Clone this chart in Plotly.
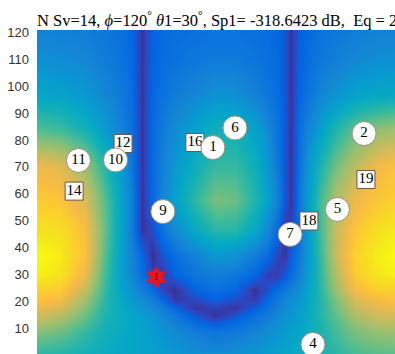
import plotly.graph_objects as go

# Field grid nodes: x nodes, y nodes (top -> bottom), values 0..1
x_nodes = [-0.5, 8.55, 17.84, 25.28, 30.86, 35.32, 39.03, 42.75, 46.47, 51.30, 58.74,
           66.17, 73.61, 81.04, 85.87, 89.59, 92.19, 94.42, 97.03, 100.74, 105.20,
           110.78, 118.22, 125.65, 134.0]
y_nodes_top_down = [122, 109.7, 96.7, 83.7, 70.7, 57.7, 46.5, 37.2, 29.8, 24.2,
                    20.5, 17.5, 14.9, 12.3, 8.6, -0.5]
z_top_down = [
    [0.24,0.23,0.22,0.20,0.17,0.14,0.03,0.12,0.15,0.16,0.17,0.18,0.18,0.17,0.16,0.14,0.10,0.03,0.11,0.15,0.18,0.20,0.22,0.23,0.24],
    [0.29,0.28,0.26,0.22,0.19,0.15,0.03,0.13,0.16,0.18,0.20,0.21,0.21,0.19,0.17,0.15,0.10,0.03,0.12,0.16,0.20,0.23,0.26,0.28,0.29],
    [0.38,0.36,0.32,0.26,0.21,0.16,0.03,0.14,0.18,0.22,0.26,0.30,0.29,0.24,0.19,0.16,0.10,0.03,0.13,0.19,0.25,0.30,0.36,0.38,0.40],
    [0.55,0.52,0.44,0.33,0.25,0.17,0.03,0.15,0.21,0.28,0.36,0.43,0.43,0.36,0.27,0.18,0.10,0.03,0.15,0.25,0.35,0.46,0.57,0.63,0.67],
    [0.80,0.77,0.65,0.47,0.33,0.19,0.03,0.15,0.23,0.32,0.42,0.50,0.50,0.42,0.31,0.19,0.10,0.03,0.16,0.31,0.45,0.58,0.70,0.80,0.85],
    [0.88,0.86,0.76,0.55,0.38,0.22,0.03,0.14,0.25,0.36,0.49,0.60,0.58,0.47,0.35,0.23,0.10,0.03,0.17,0.34,0.52,0.68,0.80,0.86,0.90],
    [0.95,0.94,0.84,0.57,0.38,0.21,0.03,0.08,0.18,0.28,0.39,0.48,0.48,0.38,0.26,0.14,0.03,0.07,0.15,0.33,0.52,0.72,0.86,0.93,0.97],
    [1.00,0.97,0.85,0.55,0.36,0.24,0.14,0.02,0.09,0.17,0.24,0.32,0.30,0.23,0.16,0.06,0.03,0.12,0.19,0.33,0.50,0.72,0.90,0.97,1.00],
    [0.98,0.95,0.80,0.52,0.36,0.26,0.17,0.06,0.04,0.13,0.19,0.22,0.20,0.14,0.05,0.05,0.11,0.16,0.22,0.34,0.49,0.68,0.88,0.95,0.98],
    [0.90,0.88,0.72,0.50,0.37,0.29,0.23,0.16,0.07,0.02,0.13,0.17,0.14,0.02,0.10,0.16,0.20,0.24,0.28,0.37,0.48,0.64,0.82,0.88,0.90],
    [0.85,0.82,0.66,0.48,0.39,0.32,0.28,0.23,0.15,0.04,0.07,0.12,0.08,0.05,0.15,0.21,0.25,0.28,0.31,0.38,0.47,0.60,0.76,0.82,0.85],
    [0.80,0.76,0.62,0.47,0.40,0.35,0.31,0.27,0.22,0.14,0.03,0.06,0.03,0.12,0.19,0.24,0.27,0.30,0.33,0.39,0.47,0.58,0.72,0.78,0.80],
    [0.75,0.70,0.58,0.46,0.41,0.37,0.34,0.30,0.26,0.20,0.10,0.02,0.09,0.17,0.22,0.26,0.29,0.31,0.34,0.40,0.47,0.56,0.68,0.74,0.76],
    [0.70,0.65,0.55,0.45,0.41,0.37,0.35,0.32,0.28,0.23,0.15,0.10,0.15,0.20,0.24,0.28,0.31,0.33,0.35,0.40,0.46,0.54,0.64,0.70,0.72],
    [0.62,0.58,0.50,0.43,0.40,0.38,0.36,0.33,0.30,0.27,0.22,0.19,0.21,0.25,0.28,0.31,0.33,0.35,0.37,0.41,0.45,0.52,0.60,0.64,0.66],
    [0.47,0.46,0.43,0.40,0.38,0.37,0.36,0.35,0.34,0.32,0.30,0.29,0.30,0.32,0.34,0.36,0.38,0.39,0.40,0.42,0.44,0.48,0.52,0.54,0.55],
]

# Circle-labelled points
circle_labels = ["6", "1", "10", "11", "9", "2", "5", "7", "4"]
circle_x = [73.6, 65.4, 29.2, 15.4, 46.8, 121.6, 111.7, 94.1, 102.6]
circle_y = [84.5, 77.2, 72.6, 72.4, 53.4, 82.4, 54.2, 44.9, 4.0]

# Square-labelled points
square_labels = ["12", "16", "14", "19", "18"]
square_x = [32.0, 58.7, 13.8, 122.3, 101.1]
square_y = [78.7, 79.1, 61.0, 65.3, 49.9]

# Star point
star_x = [44.3]
star_y = [29.0]
star_label = ["1"]

y_ticks = [10, 20, 30, 40, 50, 60, 70, 80, 90, 100, 110, 120]

parula = [
    [0/63, "rgb(53,42,135)"], [4/63, "rgb(50,67,186)"], [8/63, "rgb(3,99,225)"],
    [12/63, "rgb(13,117,220)"], [16/63, "rgb(20,133,212)"], [20/63, "rgb(9,152,209)"],
    [24/63, "rgb(6,167,198)"], [28/63, "rgb(21,177,180)"], [32/63, "rgb(56,185,158)"],
    [36/63, "rgb(101,190,134)"], [40/63, "rgb(146,191,115)"], [44/63, "rgb(183,189,100)"],
    [48/63, "rgb(217,186,86)"], [52/63, "rgb(248,187,68)"], [56/63, "rgb(252,206,46)"],
    [60/63, "rgb(245,228,29)"], [1.0, "rgb(249,251,14)"],
]

fig = go.Figure()
fig.add_trace(go.Heatmap(
    x=x_nodes, y=y_nodes_top_down[::-1], z=z_top_down[::-1],
    colorscale=parula, zmin=0, zmax=1, zsmooth="best", showscale=False,
    hoverinfo="skip",
))

serif = "Liberation Serif, Times New Roman, serif"

fig.add_trace(go.Scatter(
    x=square_x, y=square_y, mode="markers+text", text=square_labels,
    textposition="middle center",
    marker=dict(symbol="square", size=18, color="white",
                line=dict(color="#6e5546", width=1)),
    textfont=dict(family=serif, size=15, color="black"),
    showlegend=False,
))
fig.add_trace(go.Scatter(
    x=circle_x, y=circle_y, mode="markers+text", text=circle_labels,
    textposition="middle center",
    marker=dict(symbol="circle", size=24, color="white",
                line=dict(color="#a08c78", width=1)),
    textfont=dict(family=serif, size=15, color="black"),
    showlegend=False,
))
fig.add_trace(go.Scatter(
    x=star_x, y=star_y, mode="markers+text", text=star_label,
    textposition="middle center",
    marker=dict(symbol="hexagram", size=17, color="#e5161e", line=dict(width=0)),
    textfont=dict(family=serif, size=10, color="#7a0000"),
    showlegend=False,
))

fig.update_layout(
    width=395, height=354,
    margin=dict(l=37, r=0, t=30, b=0),
    paper_bgcolor="white", plot_bgcolor="white",
    title=dict(
        text="N Sv=14, <i>ϕ</i>=120<sup>°</sup> <i>θ</i>1=30<sup>°</sup>, Sp1= -318.6423 dB,  Eq = 2",
        x=37/395, xanchor="left", xref="container",
        y=1 - 20.5/354, yanchor="middle", yref="container",
        font=dict(family=serif, size=16.5, color="black"),
    ),
    xaxis=dict(range=[0, 133.1], showticklabels=False, showgrid=False,
               zeroline=False, showline=False, ticks=""),
    yaxis=dict(range=[0.45, 120.9], tickvals=y_ticks, showgrid=False,
               zeroline=False, showline=False, ticks="", ticklabelstandoff=7,
               tickfont=dict(family="Liberation Sans, Arial, sans-serif", size=13,
                             color="#333333")),
)

fig.write_html("out.html")
